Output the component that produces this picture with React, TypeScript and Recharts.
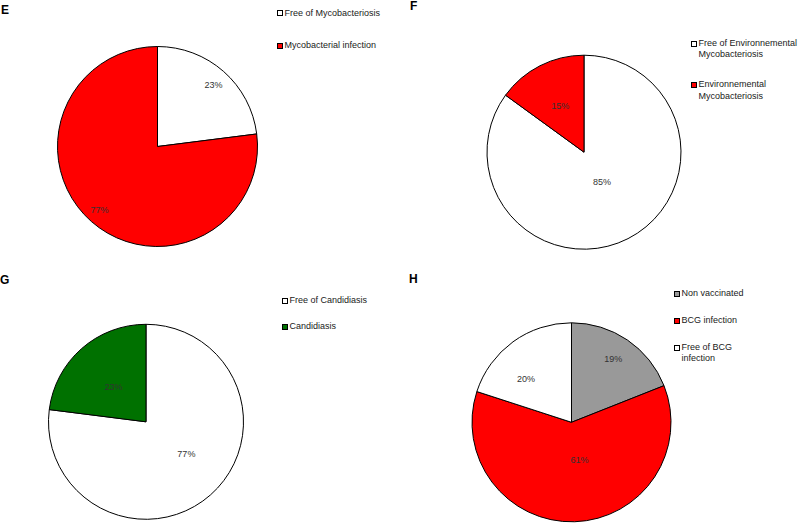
import React from "react";
import { PieChart, Pie, Cell } from "recharts";

// ---- data ----
const panelLetters = ["E", "F", "G", "H"];

const eCategories = ["Free of Mycobacteriosis", "Mycobacterial infection"];
const eValues = [23, 77];

const fCategories = ["Free of Environnemental Mycobacteriosis", "Environnemental Mycobacteriosis"];
const fValues = [85, 15];

const gCategories = ["Free of Candidiasis", "Candidiasis"];
const gValues = [77, 23];

const hCategories = ["Non vaccinated", "BCG infection", "Free of BCG infection"];
const hValues = [19, 61, 20];

const FONT = "'Liberation Sans', Arial, Helvetica, sans-serif";
const RAD = Math.PI / 180;

type Offset = { r: number; da: number };

const panels = [
  {
    letter: panelLetters[0],
    categories: eCategories,
    values: eValues,
    colors: ["#FFFFFF", "#FF0000"],
    cx: 157.5,
    cy: 146.5,
    radius: 100,
    offsets: [
      { r: 0.83, da: -1 },
      { r: 0.86, da: -1 },
    ],
    letterPos: { x: 1, y: 10 },
    legend: { x: 277, y: 13.5, width: 118, gap: 21.2 },
  },
  {
    letter: panelLetters[1],
    categories: fCategories,
    values: fValues,
    colors: ["#FFFFFF", "#FF0000"],
    cx: 584,
    cy: 152.2,
    radius: 97,
    offsets: [
      { r: 0.36, da: 4 },
      { r: 0.54, da: 0 },
    ],
    letterPos: { x: 410, y: 6 },
    legend: { x: 691, y: 43.7, width: 103, gap: 18.7 },
  },
  {
    letter: panelLetters[2],
    categories: gCategories,
    values: gValues,
    colors: ["#FFFFFF", "#007100"],
    cx: 146,
    cy: 421.8,
    radius: 97.5,
    offsets: [
      { r: 0.53, da: 10 },
      { r: 0.49, da: 1.6 },
    ],
    letterPos: { x: 0, y: 280 },
    legend: { x: 282, y: 301, width: 110, gap: 14.4 },
  },
  {
    letter: panelLetters[3],
    categories: hCategories,
    values: hValues,
    colors: ["#999999", "#FF0000", "#FFFFFF"],
    cx: 571.5,
    cy: 422.3,
    radius: 99.5,
    offsets: [
      { r: 0.76, da: 0.6 },
      { r: 0.39, da: 10 },
      { r: 0.63, da: 10.6 },
    ],
    letterPos: { x: 409, y: 279 },
    legend: { x: 674, y: 294, width: 75, gap: 15.5 },
  },
];

function makeLabel(offsets: Offset[]) {
  return (props: any) => {
    const { cx, cy, midAngle, outerRadius, index, value } = props;
    const o = offsets[index] || { r: 0.6, da: 0 };
    const a = (midAngle + o.da) * RAD;
    const x = cx + outerRadius * o.r * Math.cos(a);
    const y = cy - outerRadius * o.r * Math.sin(a);
    return (
      <text
        x={x}
        y={y}
        textAnchor="middle"
        dominantBaseline="central"
        fontSize={9}
        fill="#333333"
        fontFamily={FONT}
      >
        {value}%
      </text>
    );
  };
}

const LINE_H = 11.3;

function PanelLegend({
  x,
  y,
  width,
  gap,
  categories,
  colors,
}: {
  x: number;
  y: number;
  width: number;
  gap: number;
  categories: string[];
  colors: string[];
}) {
  return (
    <div
      style={{
        position: "absolute",
        left: x,
        top: y - LINE_H / 2,
        display: "flex",
        flexDirection: "column",
        gap: gap,
        fontFamily: FONT,
        fontSize: 9,
        lineHeight: `${LINE_H}px`,
        color: "#1a1a1a",
      }}
    >
      {categories.map((c, i) => (
        <div key={c} style={{ display: "flex", alignItems: "flex-start" }}>
          <span
            style={{
              display: "inline-block",
              width: 4,
              height: 4,
              border: "1px solid #000",
              background: colors[i],
              marginTop: (LINE_H - 6) / 2,
              marginRight: 1.5,
              flex: "none",
            }}
          />
          <span style={{ width: width, display: "inline-block" }}>{c}</span>
        </div>
      ))}
    </div>
  );
}

export default function App() {
  return (
    <div
      style={{
        position: "absolute",
        left: 0,
        top: 0,
        width: 800,
        height: 523,
        background: "#fff",
        overflow: "hidden",
      }}
    >
      <PieChart width={800} height={523} margin={{ top: 0, right: 0, bottom: 0, left: 0 }}>
        {panels.map((p) => (
          <Pie
            key={p.letter}
            data={p.categories.map((name, i) => ({ name, value: p.values[i] }))}
            dataKey="value"
            nameKey="name"
            cx={p.cx}
            cy={p.cy}
            outerRadius={p.radius}
            innerRadius={0}
            startAngle={90}
            endAngle={-270}
            stroke="#000"
            strokeWidth={1}
            label={makeLabel(p.offsets)}
            labelLine={false}
            isAnimationActive={false}
          >
            {p.categories.map((name, i) => (
              <Cell key={name} fill={p.colors[i]} stroke="#000" strokeWidth={1} />
            ))}
          </Pie>
        ))}
      </PieChart>
      {panels.map((p) => (
        <div
          key={"l" + p.letter}
          style={{
            position: "absolute",
            left: p.letterPos.x,
            top: p.letterPos.y - 7,
            fontFamily: FONT,
            fontWeight: "bold",
            fontSize: 12,
            lineHeight: "14px",
            color: "#000",
          }}
        >
          {p.letter}
        </div>
      ))}
      {panels.map((p) => (
        <PanelLegend
          key={"g" + p.letter}
          x={p.legend.x}
          y={p.legend.y}
          width={p.legend.width}
          gap={p.legend.gap}
          categories={p.categories}
          colors={p.colors}
        />
      ))}
    </div>
  );
}
